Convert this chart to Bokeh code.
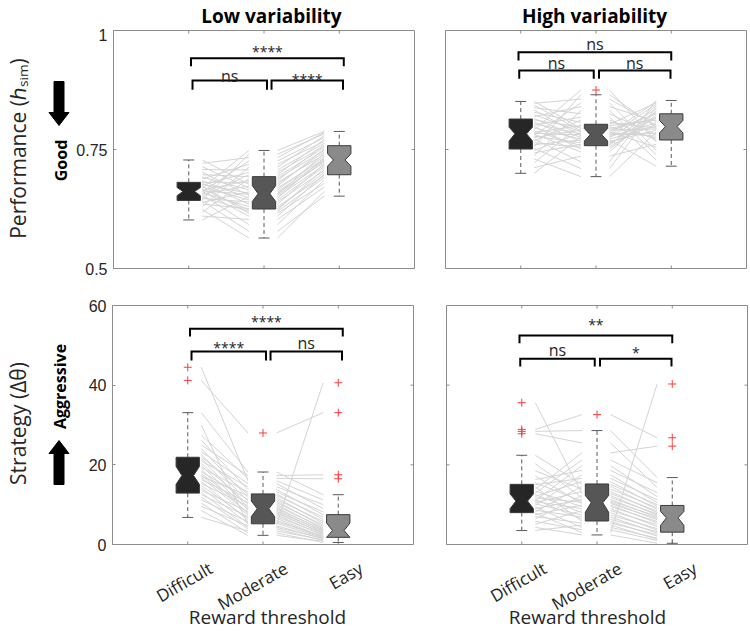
import math
from bokeh.plotting import figure
from bokeh.layouts import column, row
from bokeh.models import FixedTicker, ColumnDataSource, Range1d, Spacer
from bokeh.core.properties import value
from bokeh.embed import file_html
from bokeh.resources import INLINE

# ------------------------------------------------------------------ data
CATEGORIES = ["Difficult", "Moderate", "Easy"]
CAT_X = [1, 2, 3]
PANEL_TITLES = ["Low variability", "High variability"]
X_TITLE = "Reward threshold"
PERF_LABEL = "Performance (ℎₛᵢₘ)"
STRAT_LABEL = "Strategy (Δθ)"
PERF_SIDE = "Good"
STRAT_SIDE = "Aggressive"
PERF_TICKS = [0.5, 0.75, 1.0]
PERF_TICK_LABELS = ["0.5", "0.75", "1"]
STRAT_TICKS = [0, 20, 40, 60]
STRAT_TICK_LABELS = ["0", "20", "40", "60"]

# box statistics per category: whisker low, Q1, median, Q3, whisker high, notch low, notch high
LP_WLO = [0.602, 0.564, 0.652]
LP_Q1 = [0.643, 0.625, 0.697]
LP_MED = [0.662, 0.657, 0.728]
LP_Q3 = [0.681, 0.693, 0.758]
LP_WHI = [0.728, 0.748, 0.788]
LP_NLO = [0.653, 0.641, 0.715]
LP_NHI = [0.670, 0.674, 0.741]

HP_WLO = [0.700, 0.693, 0.715]
HP_Q1 = [0.751, 0.758, 0.770]
HP_MED = [0.783, 0.781, 0.798]
HP_Q3 = [0.814, 0.803, 0.825]
HP_WHI = [0.851, 0.865, 0.853]
HP_NLO = [0.768, 0.768, 0.785]
HP_NHI = [0.797, 0.794, 0.811]

LS_WLO = [6.8, 2.3, 0.5]
LS_Q1 = [12.9, 5.2, 1.8]
LS_MED = [17.3, 9.0, 3.5]
LS_Q3 = [21.9, 12.7, 7.5]
LS_WHI = [33.1, 18.2, 12.5]
LS_NLO = [15.1, 7.0, 1.8]
LS_NHI = [19.6, 10.9, 5.4]

HS_WLO = [3.5, 2.4, 0.3]
HS_Q1 = [8.0, 5.9, 3.1]
HS_MED = [10.9, 10.5, 6.7]
HS_Q3 = [15.1, 15.2, 9.8]
HS_WHI = [22.4, 28.6, 16.8]
HS_NLO = [9.0, 8.1, 4.8]
HS_NHI = [12.7, 12.3, 8.3]

# outliers (category, value)
LP_OUT_CAT = []
LP_OUT_VAL = []
HP_OUT_CAT = [2]
HP_OUT_VAL = [0.875]
LS_OUT_CAT = [1, 1, 2, 3, 3, 3, 3]
LS_OUT_VAL = [44.5, 41.2, 28.0, 40.6, 33.1, 17.5, 16.5]
HS_OUT_CAT = [1, 1, 1, 1, 2, 3, 3, 3]
HS_OUT_VAL = [35.6, 28.9, 28.4, 27.8, 32.6, 40.3, 26.8, 24.7]

# individual subjects (same subject order in each list)
LP_DIFF = [0.602, 0.610, 0.618, 0.624, 0.630, 0.635, 0.639, 0.642, 0.644, 0.647, 0.650, 0.652,
           0.655, 0.657, 0.659, 0.661, 0.662, 0.663, 0.665, 0.667, 0.669, 0.671, 0.673, 0.675,
           0.677, 0.679, 0.681, 0.684, 0.688, 0.692, 0.697, 0.702, 0.708, 0.714, 0.721, 0.728]
LP_MOD = [0.651, 0.603, 0.689, 0.564, 0.713, 0.626, 0.661, 0.578, 0.740, 0.640, 0.620, 0.697,
          0.592, 0.673, 0.630, 0.726, 0.610, 0.656, 0.685, 0.623, 0.748, 0.644, 0.616, 0.702,
          0.658, 0.635, 0.681, 0.648, 0.719, 0.665, 0.693, 0.654, 0.707, 0.669, 0.733, 0.677]
LP_EASY = [0.717, 0.671, 0.748, 0.662, 0.779, 0.702, 0.728, 0.652, 0.783, 0.706, 0.691, 0.771,
           0.686, 0.751, 0.695, 0.775, 0.698, 0.742, 0.760, 0.710, 0.788, 0.714, 0.679, 0.757,
           0.723, 0.720, 0.739, 0.733, 0.767, 0.736, 0.754, 0.726, 0.763, 0.730, 0.786, 0.745]

HP_DIFF = [0.700, 0.712, 0.722, 0.730, 0.737, 0.743, 0.748, 0.752, 0.756, 0.760, 0.764, 0.768,
           0.772, 0.775, 0.778, 0.780, 0.782, 0.784, 0.786, 0.789, 0.792, 0.795, 0.798, 0.801,
           0.804, 0.808, 0.812, 0.815, 0.819, 0.823, 0.828, 0.833, 0.838, 0.843, 0.847, 0.851]
HP_MOD = [0.777, 0.736, 0.803, 0.693, 0.832, 0.761, 0.785, 0.710, 0.865, 0.770, 0.755, 0.812,
          0.724, 0.791, 0.764, 0.848, 0.745, 0.781, 0.800, 0.758, 0.875, 0.772, 0.751, 0.818,
          0.783, 0.767, 0.797, 0.775, 0.840, 0.787, 0.807, 0.779, 0.825, 0.789, 0.856, 0.794]
HP_EASY = [0.806, 0.761, 0.848, 0.787, 0.739, 0.828, 0.778, 0.839, 0.797, 0.715, 0.818, 0.770,
           0.853, 0.793, 0.803, 0.748, 0.831, 0.784, 0.812, 0.842, 0.766, 0.799, 0.822, 0.728,
           0.851, 0.790, 0.774, 0.835, 0.809, 0.755, 0.795, 0.845, 0.781, 0.825, 0.801, 0.815]

LS_DIFF = [6.8, 8.5, 9.6, 10.4, 11.2, 11.9, 12.5, 13.0, 13.6, 14.2, 14.8, 15.3, 15.8, 16.3,
           16.8, 17.1, 17.4, 17.8, 18.3, 18.8, 19.3, 19.8, 20.4, 21.0, 21.6, 22.0, 22.6, 23.3,
           24.1, 25.0, 26.2, 27.5, 30.0, 33.1, 41.2, 44.5]
LS_MOD = [3.4, 2.3, 4.7, 2.9, 5.7, 3.9, 7.0, 4.3, 8.3, 5.3, 6.6, 9.7, 6.1, 10.5, 7.4, 12.3,
          8.0, 9.0, 11.3, 7.8, 13.2, 8.7, 10.1, 14.5, 9.3, 12.7, 10.9, 15.3, 11.8, 17.3, 13.8,
          16.6, 5.0, 18.2, 28.0, 16.0]
LS_EASY = [1.2, 0.8, 1.4, 0.5, 2.1, 1.0, 2.5, 1.6, 3.3, 1.7, 1.9, 4.2, 1.8, 4.9, 2.3, 6.9,
           2.7, 3.7, 5.8, 2.9, 8.2, 3.1, 3.9, 10.0, 3.5, 6.3, 4.5, 9.0, 5.3, 17.5, 7.5, 16.5,
           40.6, 12.5, 33.1, 11.2]

HS_DIFF = [3.5, 4.3, 5.1, 5.8, 6.4, 7.0, 7.5, 7.9, 8.2, 8.6, 9.0, 9.4, 9.8, 10.2, 10.5, 10.8,
           11.0, 11.3, 11.7, 12.1, 12.5, 12.9, 13.4, 13.9, 14.5, 15.0, 15.5, 16.3, 17.2, 18.5,
           20.3, 22.4, 27.8, 28.4, 28.9, 35.6]
HS_MOD = [4.9, 2.4, 8.5, 3.7, 12.3, 5.4, 9.9, 3.0, 14.6, 6.9, 11.3, 4.3, 17.5, 7.4, 13.3, 9.0,
          19.8, 6.3, 10.6, 15.8, 8.0, 21.2, 9.5, 23.0, 5.8, 16.6, 10.9, 18.6, 10.3, 13.9, 11.8,
          15.1, 25.5, 28.6, 32.6, 12.8]
HS_EASY = [1.3, 0.3, 5.0, 1.0, 7.4, 2.5, 5.4, 40.3, 8.8, 2.9, 6.8, 1.6, 10.5, 4.0, 8.0, 4.5,
           12.0, 3.2, 6.2, 9.6, 3.6, 15.5, 5.8, 24.7, 2.1, 11.2, 7.1, 13.0, 6.5, 9.2, 7.7, 10.0,
           14.3, 16.8, 26.8, 8.4]

# significance for pairs (Difficult-Moderate, Moderate-Easy, Difficult-Easy)
LP_SIG = ["ns", "****", "****"]
HP_SIG = ["ns", "ns", "ns"]
LS_SIG = ["****", "ns", "****"]
HS_SIG = ["ns", "*", "**"]

# ------------------------------------------------------------------ styles / layout
FONT = "Open Sans"
TICK_FONT = "Liberation Sans"
TEXT_COLOR = "#262626"
FRAME_COLOR = "#8c8c8c"
BOX_FILLS = ["#262626", "#565656", "#8a8a8a"]
BOX_EDGE = "#3a3a3a"
WHISK_COLOR = "#5a5a5a"
SUBJ_COLOR = "#d4d4d4"
OUT_COLOR = "#ff3b3b"
BOX_HALF = 0.155
CAP_HALF = 0.073
FW = 301          # frame width of every panel (px)
XR = (0, 4)       # category axis range
LEFT_W = 73       # width of the left strip that carries the y titles
TITLE_H = 28      # height of the strip carrying the panel titles
BOT_TOP = 555     # page y where the strip with category labels begins
BOTTOM_H = 632 - BOT_TOP
DESC = 0.27       # baseline correction (fraction of font size) for alphabetic text


def bare(**kw):
    p = figure(output_backend="svg", toolbar_location=None, x_axis_location=None,
               y_axis_location=None, **kw)
    p.outline_line_color = None
    p.background_fill_color = "white"
    p.border_fill_color = "white"
    p.grid.visible = False
    return p


def make_panel(frame, yr, yticks, ylabels, show_ylabels, borders,
               stats, out_cat, out_val, subj, sig, br_x, br_px, txt_px):
    fx0, fy0, fh = frame   # frame position on the page (px)

    def X(px):
        return XR[0] + (px - fx0) / FW * (XR[1] - XR[0])

    def Y(py):
        return yr[0] + (fy0 + fh - py) / fh * (yr[1] - yr[0])

    bl, br, bt, bb = borders
    p = figure(frame_width=FW, frame_height=fh, x_range=Range1d(*XR),
               y_range=Range1d(yr[0], yr[1]), output_backend="svg", toolbar_location=None,
               x_axis_location=None, y_axis_location="left" if show_ylabels else None,
               min_border_left=bl, min_border_right=br, min_border_top=bt,
               min_border_bottom=bb)
    p.outline_line_color = FRAME_COLOR
    p.outline_line_width = 1
    p.background_fill_color = "white"
    p.border_fill_color = "white"
    p.grid.visible = False

    if show_ylabels:
        ya = p.yaxis[0]
        ya.ticker = FixedTicker(ticks=yticks)
        ya.major_label_overrides = {t: s for t, s in zip(yticks, ylabels)}
        ya.major_tick_in = 3
        ya.major_tick_out = 0
        ya.minor_tick_in = 0
        ya.minor_tick_out = 0
        ya.axis_line_color = FRAME_COLOR
        ya.major_tick_line_color = FRAME_COLOR
        ya.major_label_text_font = TICK_FONT
        ya.major_label_text_font_size = "16px"
        ya.major_label_text_color = TEXT_COLOR
        ya.major_label_standoff = 6

    # inward tick marks on the remaining sides of the box
    tx = 3 / FW * (XR[1] - XR[0])
    ty = 3 / fh * (yr[1] - yr[0])
    n3 = len(CAT_X)
    p.segment(x0=CAT_X, y0=[yr[0]] * n3, x1=CAT_X, y1=[yr[0] + ty] * n3,
              line_color=FRAME_COLOR, line_width=1)
    p.segment(x0=CAT_X, y0=[yr[1]] * n3, x1=CAT_X, y1=[yr[1] - ty] * n3,
              line_color=FRAME_COLOR, line_width=1)
    nt = len(yticks)
    p.segment(x0=[XR[1]] * nt, y0=yticks, x1=[XR[1] - tx] * nt, y1=yticks,
              line_color=FRAME_COLOR, line_width=1)
    if not show_ylabels:
        p.segment(x0=[XR[0]] * nt, y0=yticks, x1=[XR[0] + tx] * nt, y1=yticks,
                  line_color=FRAME_COLOR, line_width=1)

    wlo, q1, med, q3, whi, nlo, nhi = stats

    # individual subject lines
    d, m, e = subj
    n = len(d)
    p.segment(x0=[CAT_X[0] + 0.18] * n, y0=d, x1=[CAT_X[1] - 0.20] * n, y1=m,
              line_color=SUBJ_COLOR, line_width=1)
    p.segment(x0=[CAT_X[1] + 0.18] * n, y0=m, x1=[CAT_X[2] - 0.20] * n, y1=e,
              line_color=SUBJ_COLOR, line_width=1)

    # whiskers
    p.segment(x0=CAT_X, y0=q3, x1=CAT_X, y1=whi, line_color=WHISK_COLOR, line_width=1,
              line_dash="4 3")
    p.segment(x0=CAT_X, y0=q1, x1=CAT_X, y1=wlo, line_color=WHISK_COLOR, line_width=1,
              line_dash="4 3")
    p.segment(x0=[c - CAP_HALF for c in CAT_X], y0=whi, x1=[c + CAP_HALF for c in CAT_X],
              y1=whi, line_color=WHISK_COLOR, line_width=1)
    p.segment(x0=[c - CAP_HALF for c in CAT_X], y0=wlo, x1=[c + CAP_HALF for c in CAT_X],
              y1=wlo, line_color=WHISK_COLOR, line_width=1)

    # notched boxes
    xs, ys = [], []
    for i, c in enumerate(CAT_X):
        a, b = c - BOX_HALF, c + BOX_HALF
        qa, qb = c - BOX_HALF / 2, c + BOX_HALF / 2
        xs.append([a, a, qa, a, a, b, b, qb, b, b])
        ys.append([q1[i], nlo[i], med[i], nhi[i], q3[i], q3[i], nhi[i], med[i], nlo[i], q1[i]])
    p.patches(xs=xs, ys=ys, fill_color=BOX_FILLS, line_color=BOX_EDGE, line_width=1)

    # outliers
    if out_cat:
        p.scatter(x=out_cat, y=out_val, marker="cross", size=8, line_color=OUT_COLOR,
                  line_width=1)

    # significance brackets
    bxs, bys = [], []
    for (xl, xr), (bar, leg) in zip(br_x, br_px):
        bxs.append([xl, xl, xr, xr])
        bys.append([Y(leg), Y(bar), Y(bar), Y(leg)])
    p.multi_line(xs=bxs, ys=bys, line_color="black", line_width=2, line_join="miter")
    for (xl, xr), s, ty_ in zip(br_x, sig, txt_px):
        fs = 16 if s == "ns" else 14
        p.text(x=[(xl + xr) / 2], y=[Y(ty_ - DESC * fs)], text=[s], text_align="center",
               text_baseline="alphabetic", text_font=value(FONT),
               text_font_size=f"{fs}px", text_color=TEXT_COLOR)
    return p, X, Y


def title_strip(panel, borders, text, X, px, py):
    bl, br = borders
    s = bare(frame_width=FW, frame_height=TITLE_H, x_range=panel.x_range,
             y_range=Range1d(-TITLE_H, 0), min_border_left=bl, min_border_right=br,
             min_border_top=0, min_border_bottom=0)
    s.text(x=[X(px)], y=[-(py - DESC * 19)], text=[text], text_align="center",
           text_baseline="alphabetic", text_font=value(FONT), text_font_size="19px",
           text_font_style="bold", text_color="black")
    return s


def bottom_strip(panel, borders, X, px_title):
    bl, br = borders
    s = bare(frame_width=FW, frame_height=BOTTOM_H, x_range=panel.x_range,
             y_range=Range1d(-632, -BOT_TOP), min_border_left=bl,
             min_border_right=br, min_border_top=0, min_border_bottom=0)
    src = ColumnDataSource(dict(x=[c + 23 / FW * 4 for c in CAT_X], y=[-566] * len(CAT_X),
                                text=CATEGORIES))
    s.text(x="x", y="y", text="text", source=src, angle=math.pi / 6, text_align="right",
           text_baseline="middle", text_font=value(FONT), text_font_size="17px",
           text_color=TEXT_COLOR)
    s.text(x=[X(px_title)], y=[-(622 - DESC * 19)], text=[X_TITLE], text_align="center",
           text_baseline="alphabetic", text_font=value(FONT), text_font_size="19px",
           text_color=TEXT_COLOR)
    return s


def left_strip(panel, fh, bt, bb, Y, label, label_fs, label_bx, label_cy, side, side_bx,
               side_cy, arrow_tail, arrow_tip):
    s = bare(frame_width=LEFT_W, frame_height=fh, x_range=Range1d(0, LEFT_W),
             y_range=panel.y_range, min_border_left=0, min_border_right=0,
             min_border_top=bt, min_border_bottom=bb)
    s.text(x=[label_bx - DESC * label_fs], y=[Y(label_cy)], text=[label], angle=math.pi / 2,
           text_align="center", text_baseline="alphabetic", text_font=value(FONT),
           text_font_size=f"{label_fs}px", text_color=TEXT_COLOR)
    s.text(x=[side_bx - DESC * 16], y=[Y(side_cy)], text=[side], angle=math.pi / 2,
           text_align="center", text_baseline="alphabetic", text_font=value(FONT),
           text_font_size="16px", text_font_style="bold", text_color="black")
    # thick block arrow (shaft 10 px, head 20 px wide, 13 px long)
    cx = 58.5
    d = 1 if arrow_tip > arrow_tail else -1
    hb = arrow_tip - d * 13
    px = [cx - 5, cx + 5, cx + 5, cx + 10, cx, cx - 10, cx - 5]
    py = [arrow_tail, arrow_tail, hb, hb, arrow_tip, hb, hb]
    s.patch(x=px, y=[Y(v) for v in py], fill_color="black", line_color="black", line_width=1)
    return s


LEFT_BRX = [(1.05, 2.04), (2.10, 3.05), (1.03, 3.06)]
RIGHT_BRX = [(0.98, 1.97), (2.04, 2.99), (0.97, 3.00)]

TL_B = (112 - LEFT_W, 15, 2, 18)
TR_B = (16, 5, 2, 18)
BL_B = (112 - LEFT_W, 15, 19, BOT_TOP - 544)
BR_B = (18, 3, 19, BOT_TOP - 544)

tl, X1, Y1 = make_panel((112, 30, 238), (0.5, 1.0), PERF_TICKS, PERF_TICK_LABELS, True, TL_B,
                        (LP_WLO, LP_Q1, LP_MED, LP_Q3, LP_WHI, LP_NLO, LP_NHI),
                        LP_OUT_CAT, LP_OUT_VAL, (LP_DIFF, LP_MOD, LP_EASY), LP_SIG,
                        LEFT_BRX, [(80, 89.3), (80, 89.3), (57.7, 65.7)], [80, 82.7, 54.7])
tr, X2, Y2 = make_panel((444, 30, 238), (0.5, 1.0), PERF_TICKS, PERF_TICK_LABELS, False, TR_B,
                        (HP_WLO, HP_Q1, HP_MED, HP_Q3, HP_WHI, HP_NLO, HP_NHI),
                        HP_OUT_CAT, HP_OUT_VAL, (HP_DIFF, HP_MOD, HP_EASY), HP_SIG,
                        RIGHT_BRX, [(70, 78.3), (70, 78.3), (51.7, 60)], [66.6, 66.6, 48.3])
bl, X3, Y3 = make_panel((112, 305, 239), (0, 60), STRAT_TICKS, STRAT_TICK_LABELS, True, BL_B,
                        (LS_WLO, LS_Q1, LS_MED, LS_Q3, LS_WHI, LS_NLO, LS_NHI),
                        LS_OUT_CAT, LS_OUT_VAL, (LS_DIFF, LS_MOD, LS_EASY), LS_SIG,
                        LEFT_BRX, [(351, 360), (351, 360), (328.3, 336)], [350.4, 347, 324.4])
brp, X4, Y4 = make_panel((446, 305, 239), (0, 60), STRAT_TICKS, STRAT_TICK_LABELS, False, BR_B,
                         (HS_WLO, HS_Q1, HS_MED, HS_Q3, HS_WHI, HS_NLO, HS_NHI),
                         HS_OUT_CAT, HS_OUT_VAL, (HS_DIFF, HS_MOD, HS_EASY), HS_SIG,
                         RIGHT_BRX, [(358.3, 366), (358.3, 366), (335, 342.7)],
                         [353.6, 356, 327.7])

t_l = title_strip(tl, TL_B[:2], PANEL_TITLES[0], X1, 271, 21)
t_r = title_strip(tr, TR_B[:2], PANEL_TITLES[1], X2, 594, 21)
lt = left_strip(tl, 238, TL_B[2], TL_B[3], Y1, PERF_LABEL, 21, 23, 148, PERF_SIDE, 65, 160,
                81, 125)
lb = left_strip(bl, 239, BL_B[2], BL_B[3], Y3, STRAT_LABEL, 21, 23, 423, STRAT_SIDE, 64, 386,
                484, 440)
b_l = bottom_strip(bl, BL_B[:2], X3, 267)
b_r = bottom_strip(brp, BR_B[:2], X4, 587)

layout = column(
    row(Spacer(width=LEFT_W, height=TITLE_H), t_l, t_r),
    row(lt, tl, tr),
    row(lb, bl, brp),
    row(Spacer(width=LEFT_W, height=BOTTOM_H), b_l, b_r),
)
open("out.html", "w").write(file_html(layout, INLINE))
